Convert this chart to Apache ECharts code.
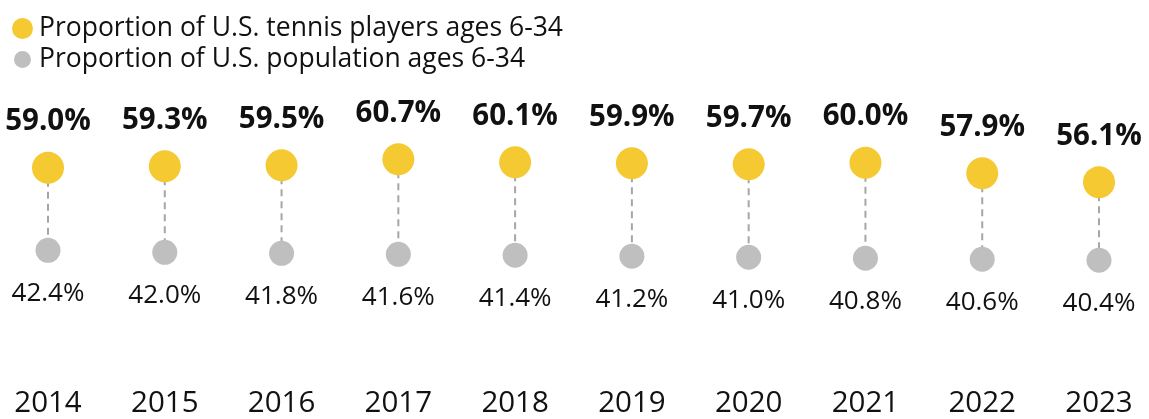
<!DOCTYPE html>
<html>
<head>
<meta charset="utf-8">
<script src="https://cdn.jsdelivr.net/npm/echarts@6/dist/echarts.min.js"></script>
<style>
  html, body { margin: 0; padding: 0; background: #fff; }
  #chart { width: 1149px; height: 419px; }
</style>
</head>
<body>
<div id="chart"></div>
<script>
// data
var years = ['2014', '2015', '2016', '2017', '2018', '2019', '2020', '2021', '2022', '2023'];
var tennisShare = [59.0, 59.3, 59.5, 60.7, 60.1, 59.9, 59.7, 60.0, 57.9, 56.1];
var populationShare = [42.4, 42.0, 41.8, 41.6, 41.4, 41.2, 41.0, 40.8, 40.6, 40.4];

var tennisName = 'Proportion of U.S. tennis players ages 6-34';
var popName = 'Proportion of U.S. population ages 6-34';

var YELLOW = '#F4C932';
var GREY = '#BFBFBF';
var FONT = 'Open Sans';

var chart = echarts.init(document.getElementById('chart'));

// pairs for the dashed connectors
var connectorData = years.map(function (y, i) {
    return [i, tennisShare[i], populationShare[i]];
});

function pct(p) {
    return p.value.toFixed(1) + '%';
}

var option = {
    animation: false,
    textStyle: { fontFamily: FONT },
    legend: [
        {
            data: [tennisName],
            left: 7, top: 10,
            orient: 'vertical',
            icon: 'circle',
            itemWidth: 21, itemHeight: 21,
            selectedMode: false,
            textStyle: { fontFamily: FONT, fontSize: 26.5, color: '#111', padding: [0, 0, 0, 1] }
        },
        {
            data: [popName],
            left: 9, top: 41,
            orient: 'vertical',
            icon: 'circle',
            itemWidth: 17, itemHeight: 17,
            selectedMode: false,
            textStyle: { fontFamily: FONT, fontSize: 26.5, color: '#111', padding: [0, 0, 0, 3] }
        }
    ],
    grid: { left: 48, right: 50, top: 113, bottom: 104 },
    xAxis: {
        type: 'category',
        data: years,
        boundaryGap: false,
        axisLine: { show: false },
        axisTick: { show: false },
        axisLabel: { fontFamily: FONT, fontSize: 29.5, color: '#111', margin: 77 }
    },
    yAxis: {
        type: 'value',
        min: 30, max: 70,
        show: false,
        splitLine: { show: false }
    },
    series: [
        {
            name: 'connector',
            type: 'custom',
            data: connectorData,
            z: 1,
            silent: true,
            renderItem: function (params, api) {
                var a = api.coord([api.value(0), api.value(1)]);
                var b = api.coord([api.value(0), api.value(2)]);
                return {
                    type: 'line',
                    shape: { x1: a[0], y1: a[1], x2: b[0], y2: b[1] },
                    style: { stroke: '#A6A6A6', lineWidth: 2, lineDash: [7, 5] }
                };
            }
        },
        {
            name: tennisName,
            type: 'scatter',
            data: tennisShare,
            symbolSize: 32,
            z: 3,
            itemStyle: { color: YELLOW, opacity: 1 },
            label: {
                show: true,
                position: 'top',
                distance: 15,
                formatter: pct,
                fontFamily: FONT,
                fontSize: 29.5,
                fontWeight: 'bold',
                color: '#111'
            }
        },
        {
            name: popName,
            type: 'scatter',
            data: populationShare,
            symbolSize: 25,
            z: 3,
            itemStyle: { color: GREY, opacity: 1 },
            label: {
                show: true,
                position: 'bottom',
                distance: 17.5,
                formatter: pct,
                fontFamily: FONT,
                fontSize: 26,
                color: '#111'
            }
        }
    ]
};

chart.setOption(option);
</script>
</body>
</html>
